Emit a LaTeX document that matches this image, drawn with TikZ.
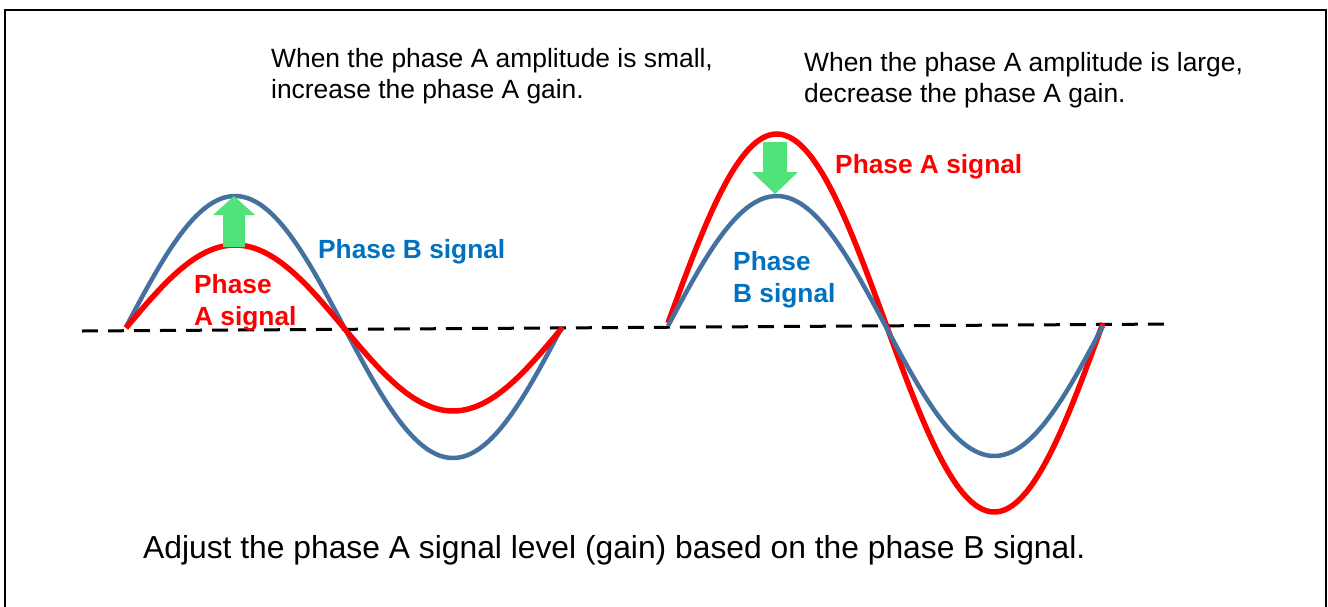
\documentclass[tikz,border=0pt]{standalone}
\usepackage{fontspec}
\setmainfont{Liberation Sans}
\usepackage{tikz}
\usetikzlibrary{positioning,calc}
\definecolor{sigb}{HTML}{44719F}
\definecolor{sigbtxt}{HTML}{0070C0}
\definecolor{siga}{HTML}{FF0000}
\definecolor{gainarr}{RGB}{82,226,122}
\tikzset{
  note/.style={font=\fontsize{26.4}{31}\selectfont,align=left,inner sep=0pt,anchor=base west},
  tag/.style={font=\fontsize{26.3}{32}\selectfont\bfseries,align=left,inner sep=0pt,anchor=base west}
}
\begin{document}
\begin{tikzpicture}[x=1pt,y=-1pt,
  bline/.style={draw=sigb,line width=4.5pt},
  aline/.style={draw=siga,line width=5.5pt},
  zero/.style={draw=black,line width=3pt,dash pattern=on 16pt off 10pt},
  garrow/.style={fill=gainarr,draw=none}]
\useasboundingbox (0,0) rectangle (1328,606);
\clip (0,0) rectangle (1328,606);
\draw[line width=2.2pt] (5,10) rectangle (1326,700);
% zero level
\coordinate (z0) at (82,331);
\coordinate (z1) at (1172,324);
\draw[zero] (z0) -- (z1);
% left: phase A small
\draw[bline] plot[domain=0:360,samples=120,smooth] ({126+\x/360*436},{327-131*sin(\x)});
\draw[aline] plot[domain=0:360,samples=120,smooth] ({126+\x/360*436},{328-83*sin(\x)});
\fill[garrow] (223,247) -- (223,215) -- (213,215) -- (234,196) -- (255,215)
  -- (245,215) -- (245,247) -- cycle;
% right: phase A large
\draw[aline] plot[domain=0:360,samples=120,smooth] ({668+\x/360*435},{323-189*sin(\x)});
\draw[bline] plot[domain=0:360,samples=120,smooth] ({668+\x/360*435},{326-130*sin(\x)});
\fill[garrow] (763,142) -- (787,142) -- (787,172) -- (798,172) -- (775,194)
  -- (752,172) -- (763,172) -- cycle;
% texts (multi-line nodes sit on their last baseline)
\node[note] (smalltxt) at (271,98) {When the phase A amplitude is small,\\increase the phase A gain.};
\node[note] (largetxt) at (804,102) {When the phase A amplitude is large,\\decrease the phase A gain.};
\node[tag,text=sigbtxt] (bleft) at (318,258) {Phase B signal};
\node[tag,text=siga] (aleft) at (194,325) {Phase\\A signal};
\node[tag,text=siga] (aright) at (835,173) {Phase A signal};
\node[tag,text=sigbtxt] (bright) at (733,302) {Phase\\B signal};
\node[note,font=\fontsize{31.8}{36}\selectfont] (summary) at (143,558)
  {Adjust the phase A signal level (gain) based on the phase B signal.};
\end{tikzpicture}
\end{document}
